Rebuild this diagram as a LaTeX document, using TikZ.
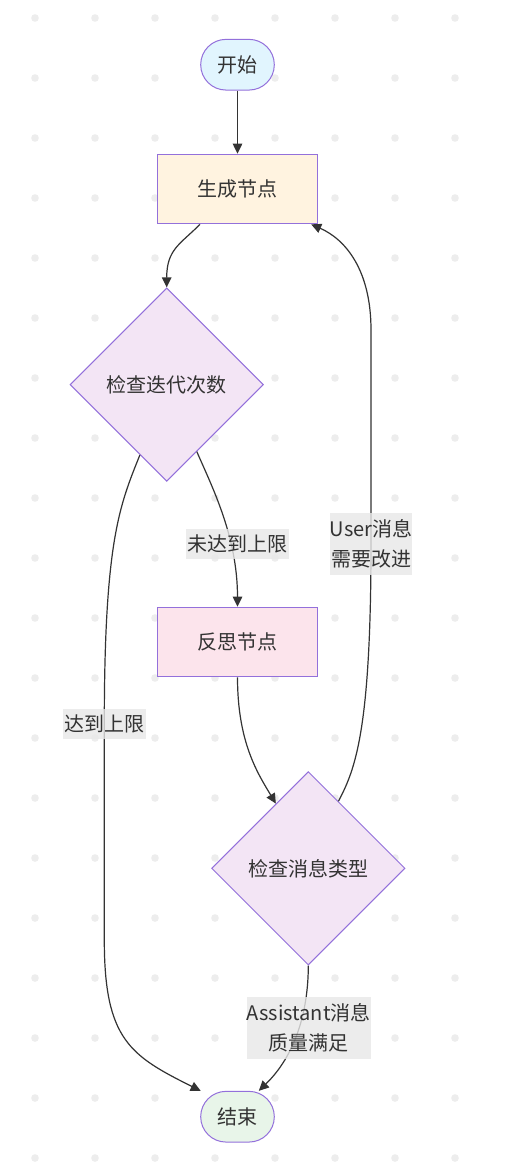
\documentclass[tikz,border=0pt]{standalone}
\usepackage{fontspec}
\setmainfont{Noto Sans CJK SC}
\usetikzlibrary{shapes.geometric,arrows.meta,calc}
\definecolor{dotc}{HTML}{EDEDED}
\definecolor{edgec}{HTML}{333333}
\definecolor{txtc}{HTML}{333333}
\definecolor{strokec}{HTML}{9370DB}
\definecolor{startf}{HTML}{E1F5FE}
\definecolor{genf}{HTML}{FFF3E0}
\definecolor{decf}{HTML}{F3E5F5}
\definecolor{reff}{HTML}{FCE4EC}
\definecolor{endf}{HTML}{E8F5E9}
\definecolor{labf}{HTML}{E8E8E8}
\tikzset{
  base/.style={draw=strokec, line width=1pt, text=txtc, font=\fontsize{20}{24}\selectfont, inner sep=0pt},
  stadium/.style={base, rectangle, rounded corners=25.3pt, minimum width=73.6pt, minimum height=50.7pt},
  procbox/.style={base, rectangle, minimum width=160.4pt, minimum height=69.7pt},
  decision/.style={base, diamond, aspect=1, minimum width=193.4pt, minimum height=193.4pt},
  edgelab/.style={fill=labf, fill opacity=0.8, text opacity=1, text=txtc, inner sep=0pt, align=center, font=\fontsize{20}{30.5}\selectfont},
  conn/.style={draw=edgec, line width=1.2pt, -{Triangle[length=10pt,width=9.5pt]}}
}
\begin{document}
\begin{tikzpicture}[x=1pt,y=-1pt]
\useasboundingbox (0,0) rectangle (506,1165);
\fill[white] (0,0) rectangle (506,1165);
\foreach \x in {35,95,...,455} \foreach \y in {18,78,...,1158} \fill[dotc] (\x,\y) circle (3.8pt);

% nodes
\node[stadium, fill=startf] (start) at (237.5,64.7) {开始};
\node[procbox, fill=genf] (gen) at (237.5,189) {生成节点};
\node[decision, fill=decf] (chk1) at (166.7,384.6) {检查迭代次数};
\node[procbox, fill=reff] (refl) at (237.5,642) {反思节点};
\node[decision, fill=decf] (chk2) at (308.3,868.3) {检查消息类型};
\node[stadium, fill=endf] (end) at (237.5,1116.7) {结束};

% label anchors
\coordinate (L1) at (237.5,544);
\coordinate (L2) at (104.3,724);
\coordinate (L3) at (371,544);
\coordinate (L4) at (308.7,1028);

% connectors
\draw[conn] (start.south) -- (gen.north);
\draw[conn] ($(gen.south)+(-37.5,0)$) .. controls +(-20,20) and +(0,-38) .. (chk1.north);
\draw[conn] ($(chk1.east)!0.69!(chk1.south)$) .. controls +(15.3,35.3) and +(0,-70) .. (refl.north);
\draw[conn] ($(chk1.west)!0.724!(chk1.south)$) .. controls +(-20,50) and +(0,-184) .. (L2)
   -- ++(0,216) .. controls +(0,100) and +(-70,-35) .. ($(end.north west)+(0.5,0)$);
\draw[conn] (refl.south) .. controls +(0,65) and +(-18,-30) .. ($(chk2.north)!0.334!(chk2.west)$);
\draw[conn] ($(chk2.north)!0.31!(chk2.east)$) .. controls +(16.8,-31.7) and +(0,186) .. (L3)
   -- ++(0,-214) .. controls +(0,-60) and +(34.3,15) .. ($(gen.south east)+(-7,0)$);
\draw[conn] (chk2.south) .. controls +(0,45) and +(37,-36) .. ($(end.north east)+(-16,0)$);

% edge labels
\node[edgelab, minimum width=103pt, minimum height=30pt] (lab1) at (L1) {未达到上限};
\node[edgelab, minimum width=83pt, minimum height=30pt] (lab2) at (L2) {达到上限};
\node[edgelab, minimum width=82pt, minimum height=62pt] (lab3) at (L3) {User消息\\需要改进};
\node[edgelab, minimum width=123pt, minimum height=62pt] (lab4) at (L4) {Assistant消息\\质量满足};
\end{tikzpicture}
\end{document}
